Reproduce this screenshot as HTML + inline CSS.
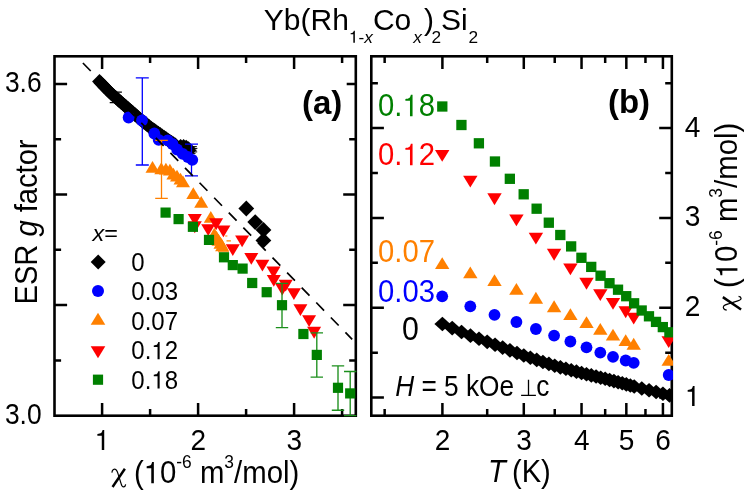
<!DOCTYPE html>
<html><head><meta charset="utf-8"><title>Yb(Rh1-xCox)2Si2</title>
<style>html,body{margin:0;padding:0;background:#fff;}svg{display:block;will-change:transform;}text{font-family:"Liberation Sans", sans-serif;fill:#000;}</style></head><body>
<svg width="747" height="492" viewBox="0 0 747 492">
<rect width="747" height="492" fill="#fff"/>
<path d="M102.1 415.7v-12.6M102.1 56.3v12.6M198.1 415.7v-12.6M198.1 56.3v12.6M294.1 415.7v-12.6M294.1 56.3v12.6M150.1 415.7v-6.6M150.1 56.3v6.6M246.1 415.7v-6.6M246.1 56.3v6.6M342.1 415.7v-6.6M342.1 56.3v6.6M54.5 84h12.6M355.8 84h-12.6M54.5 194.56h12.6M355.8 194.56h-12.6M54.5 305.12h12.6M355.8 305.12h-12.6M54.5 139.28h6.6M355.8 139.28h-6.6M54.5 249.84h6.6M355.8 249.84h-6.6M54.5 360.4h6.6M355.8 360.4h-6.6" stroke="#000" stroke-width="2.5" fill="none"/>
<path d="M442.4 415.7v-12.6M442.4 56.3v12.6M523.79 415.7v-12.6M523.79 56.3v12.6M581.54 415.7v-12.6M581.54 56.3v12.6M626.33 415.7v-12.6M626.33 56.3v12.6M662.93 415.7v-12.6M662.93 56.3v12.6M384.65 415.7v-6.6M384.65 56.3v6.6M487.19 415.7v-6.6M487.19 56.3v6.6M554.73 415.7v-6.6M554.73 56.3v6.6M605.18 415.7v-6.6M605.18 56.3v6.6M645.46 415.7v-6.6M645.46 56.3v6.6M371.3 397.6h12.6M671.8 397.6h-12.6M371.3 307.77h12.6M671.8 307.77h-12.6M371.3 217.94h12.6M671.8 217.94h-12.6M371.3 128.11h12.6M671.8 128.11h-12.6M371.3 352.69h6.6M671.8 352.69h-6.6M371.3 262.86h6.6M671.8 262.86h-6.6M371.3 173.03h6.6M671.8 173.03h-6.6M371.3 83.2h6.6M671.8 83.2h-6.6" stroke="#000" stroke-width="2.5" fill="none"/>
<rect x="54.5" y="56.3" width="301.3" height="359.4" fill="none" stroke="#000" stroke-width="2.6"/>
<rect x="371.3" y="56.3" width="300.5" height="359.4" fill="none" stroke="#000" stroke-width="2.6"/>
<g>
<path d="M115.8 92.1V102.7M109.7 92.1H121.9M109.7 102.7H121.9" stroke="#000" stroke-width="1.2" fill="none"/>
<path d="M99.5 74.1L106.9 81.5L99.5 88.9L92.1 81.5Z" fill="#000"/>
<path d="M101.1 75.76L108.5 83.16L101.1 90.56L93.7 83.16Z" fill="#000"/>
<path d="M102.7 77.42L110.1 84.82L102.7 92.22L95.3 84.82Z" fill="#000"/>
<path d="M104.3 79.08L111.7 86.48L104.3 93.88L96.9 86.48Z" fill="#000"/>
<path d="M105.91 80.74L113.31 88.14L105.91 95.54L98.51 88.14Z" fill="#000"/>
<path d="M107.51 82.4L114.91 89.8L107.51 97.2L100.11 89.8Z" fill="#000"/>
<path d="M109.12 84.05L116.52 91.45L109.12 98.85L101.72 91.45Z" fill="#000"/>
<path d="M110.72 85.71L118.12 93.11L110.72 100.51L103.32 93.11Z" fill="#000"/>
<path d="M112.42 87.26L119.82 94.66L112.42 102.06L105.02 94.66Z" fill="#000"/>
<path d="M114.15 88.79L121.55 96.19L114.15 103.59L106.75 96.19Z" fill="#000"/>
<path d="M115.88 90.32L123.28 97.72L115.88 105.12L108.48 97.72Z" fill="#000"/>
<path d="M117.6 91.85L125 99.25L117.6 106.65L110.2 99.25Z" fill="#000"/>
<path d="M119.33 93.38L126.73 100.78L119.33 108.18L111.93 100.78Z" fill="#000"/>
<path d="M121.05 94.91L128.45 102.31L121.05 109.71L113.65 102.31Z" fill="#000"/>
<path d="M122.78 96.44L130.18 103.84L122.78 111.24L115.38 103.84Z" fill="#000"/>
<path d="M124.51 97.97L131.91 105.37L124.51 112.77L117.11 105.37Z" fill="#000"/>
<path d="M126.24 99.49L133.64 106.89L126.24 114.29L118.84 106.89Z" fill="#000"/>
<path d="M127.97 101.02L135.37 108.42L127.97 115.82L120.57 108.42Z" fill="#000"/>
<path d="M129.7 102.55L137.1 109.95L129.7 117.35L122.3 109.95Z" fill="#000"/>
<path d="M131.43 104.07L138.83 111.47L131.43 118.87L124.03 111.47Z" fill="#000"/>
<path d="M133.17 105.59L140.57 112.99L133.17 120.39L125.77 112.99Z" fill="#000"/>
<path d="M134.91 107.1L142.31 114.5L134.91 121.9L127.51 114.5Z" fill="#000"/>
<path d="M136.65 108.61L144.05 116.01L136.65 123.41L129.25 116.01Z" fill="#000"/>
<path d="M138.39 110.13L145.79 117.53L138.39 124.93L130.99 117.53Z" fill="#000"/>
<path d="M140.13 111.64L147.53 119.04L140.13 126.44L132.73 119.04Z" fill="#000"/>
<path d="M141.89 113.12L149.29 120.52L141.89 127.92L134.49 120.52Z" fill="#000"/>
<path d="M143.69 114.58L151.09 121.98L143.69 129.38L136.29 121.98Z" fill="#000"/>
<path d="M145.48 116.03L152.88 123.43L145.48 130.83L138.08 123.43Z" fill="#000"/>
<path d="M147.27 117.48L154.67 124.88L147.27 132.28L139.87 124.88Z" fill="#000"/>
<path d="M149.06 118.93L156.46 126.33L149.06 133.73L141.66 126.33Z" fill="#000"/>
<path d="M150.85 120.38L158.25 127.78L150.85 135.18L143.45 127.78Z" fill="#000"/>
<path d="M152.72 121.74L160.12 129.14L152.72 136.54L145.32 129.14Z" fill="#000"/>
<path d="M154.59 123.08L161.99 130.48L154.59 137.88L147.19 130.48Z" fill="#000"/>
<path d="M156.47 124.43L163.87 131.83L156.47 139.23L149.07 131.83Z" fill="#000"/>
<path d="M158.34 125.77L165.74 133.17L158.34 140.57L150.94 133.17Z" fill="#000"/>
<path d="M160.21 127.12L167.61 134.52L160.21 141.92L152.81 134.52Z" fill="#000"/>
<path d="M162.1 128.45L169.5 135.85L162.1 143.25L154.7 135.85Z" fill="#000"/>
<path d="M164 129.76L171.4 137.16L164 144.56L156.6 137.16Z" fill="#000"/>
<path d="M165.9 131.07L173.3 138.47L165.9 145.87L158.5 138.47Z" fill="#000"/>
<path d="M167.79 132.38L175.19 139.78L167.79 147.18L160.39 139.78Z" fill="#000"/>
<path d="M169.69 133.69L177.09 141.09L169.69 148.49L162.29 141.09Z" fill="#000"/>
<path d="M171.59 134.99L178.99 142.39L171.59 149.79L164.19 142.39Z" fill="#000"/>
<path d="M173.5 136.3L180.9 143.7L173.5 151.1L166.1 143.7Z" fill="#000"/>
<path d="M175.4 137.6L182.8 145L175.4 152.4L168 145Z" fill="#000"/>
<path d="M192 146.6h4.8M192 148.4h5.4M192 150.2h4.6M192 151.9h5.2M192 153.4h3.5" stroke="#000" stroke-width="1" fill="none"/>
<path d="M180.6 138.9L188 146.3L180.6 153.7L173.2 146.3Z" fill="#000"/>
<path d="M183.6 139L191 146.4L183.6 153.8L176.2 146.4Z" fill="#000"/>
<path d="M186.2 139.8L193.6 147.2L186.2 154.6L178.8 147.2Z" fill="#000"/>
<path d="M188.4 141.2L195.8 148.6L188.4 156L181 148.6Z" fill="#000"/>
<path d="M188.9 142.9L196.3 150.3L188.9 157.7L181.5 150.3Z" fill="#000"/>
<path d="M187.4 144.2L194.8 151.6L187.4 159L180 151.6Z" fill="#000"/>
<path d="M246.3 200.6L254.2 208.5L246.3 216.4L238.4 208.5Z" fill="#000"/>
<path d="M255.2 214.2L263.1 222.1L255.2 230L247.3 222.1Z" fill="#000"/>
<path d="M263.5 222L271.4 229.9L263.5 237.8L255.6 229.9Z" fill="#000"/>
<path d="M263.4 232.5L271.3 240.4L263.4 248.3L255.5 240.4Z" fill="#000"/>
<path d="M142.3 77.9V165M135.8 77.9H148.8M135.8 165H148.8" stroke="#0000ff" stroke-width="1.3" fill="none"/>
<path d="M191.5 144.1V175.9M185 144.1H198M185 175.9H198" stroke="#0000ff" stroke-width="1.3" fill="none"/>
<circle cx="128.6" cy="117.5" r="5.9" fill="#0000ff"/>
<circle cx="142" cy="120.5" r="5.9" fill="#0000ff"/>
<circle cx="154.3" cy="133.5" r="5.9" fill="#0000ff"/>
<circle cx="158.7" cy="139.8" r="5.9" fill="#0000ff"/>
<circle cx="167.7" cy="140.4" r="5.9" fill="#0000ff"/>
<circle cx="172.5" cy="144" r="5.9" fill="#0000ff"/>
<circle cx="177.1" cy="149.5" r="5.9" fill="#0000ff"/>
<circle cx="182.7" cy="153.9" r="5.9" fill="#0000ff"/>
<circle cx="187.9" cy="157" r="5.9" fill="#0000ff"/>
<circle cx="192.3" cy="159.8" r="5.9" fill="#0000ff"/>
<path d="M161.5 140.4V198.4M155.2 140.4H167.8M155.2 198.4H167.8" stroke="#ff8000" stroke-width="1.3" fill="none"/>
<path d="M152.5 160.93L159.5 172.73L145.5 172.73Z" fill="#ff8000"/>
<path d="M161.3 162.33L168.3 174.13L154.3 174.13Z" fill="#ff8000"/>
<path d="M165.9 162.63L172.9 174.43L158.9 174.43Z" fill="#ff8000"/>
<path d="M169.9 163.73L176.9 175.53L162.9 175.53Z" fill="#ff8000"/>
<path d="M173.4 167.63L180.4 179.43L166.4 179.43Z" fill="#ff8000"/>
<path d="M177 169.73L184 181.53L170 181.53Z" fill="#ff8000"/>
<path d="M180.5 172.63L187.5 184.43L173.5 184.43Z" fill="#ff8000"/>
<path d="M183 175.53L190 187.33L176 187.33Z" fill="#ff8000"/>
<path d="M193.3 187.13L200.3 198.93L186.3 198.93Z" fill="#ff8000"/>
<path d="M201.2 196.03L208.2 207.83L194.2 207.83Z" fill="#ff8000"/>
<path d="M210.8 211.03L217.8 222.83L203.8 222.83Z" fill="#ff8000"/>
<path d="M194.8 225.87L201.8 214.07L187.8 214.07Z" fill="#ff0000"/>
<path d="M194.8 233.17L201.8 221.37L187.8 221.37Z" fill="#ff0000"/>
<path d="M216.1 230.17L223.1 218.37L209.1 218.37Z" fill="#ff0000"/>
<path d="M208.2 235.97L215.2 224.17L201.2 224.17Z" fill="#ff0000"/>
<path d="M223.4 237.27L230.4 225.47L216.4 225.47Z" fill="#ff0000"/>
<path d="M242.1 247.27L249.1 235.47L235.1 235.47Z" fill="#ff0000"/>
<path d="M232.8 255.97L239.8 244.17L225.8 244.17Z" fill="#ff0000"/>
<path d="M251.3 264.87L258.3 253.07L244.3 253.07Z" fill="#ff0000"/>
<path d="M262.4 271.47L269.4 259.67L255.4 259.67Z" fill="#ff0000"/>
<path d="M273.5 278.37L280.5 266.57L266.5 266.57Z" fill="#ff0000"/>
<path d="M273.8 286.87L280.8 275.07L266.8 275.07Z" fill="#ff0000"/>
<path d="M285.7 291.57L292.7 279.77L278.7 279.77Z" fill="#ff0000"/>
<path d="M282.3 295.47L289.3 283.67L275.3 283.67Z" fill="#ff0000"/>
<path d="M293.9 300.07L300.9 288.27L286.9 288.27Z" fill="#ff0000"/>
<path d="M300.4 316.07L307.4 304.27L293.4 304.27Z" fill="#ff0000"/>
<path d="M309.1 326.97L316.1 315.17L302.1 315.17Z" fill="#ff0000"/>
<path d="M314.1 338.67L321.1 326.87L307.1 326.87Z" fill="#ff0000"/>
<path d="M225.2 236h2.2M226.5 240.9h4.4M218 251.8h11" stroke="#ff8000" stroke-width="1.1" fill="none"/>
<path d="M214.3 227.83L221.3 239.63L207.3 239.63Z" fill="#ff8000"/>
<path d="M216.5 230.83L223.5 242.63L209.5 242.63Z" fill="#ff8000"/>
<path d="M218.5 233.83L225.5 245.63L211.5 245.63Z" fill="#ff8000"/>
<path d="M220.5 236.83L227.5 248.63L213.5 248.63Z" fill="#ff8000"/>
<path d="M222.1 239.33L229.1 251.13L215.1 251.13Z" fill="#ff8000"/>
<path d="M282 283.4V327.6M275.8 283.4H288.2M275.8 327.6H288.2" stroke="#1c8f1c" stroke-width="1.35" fill="none"/>
<path d="M316.8 332.9V377.1M310.6 332.9H323M310.6 377.1H323" stroke="#1c8f1c" stroke-width="1.35" fill="none"/>
<path d="M338 365.9V410.2M331.8 365.9H344.2M331.8 410.2H344.2" stroke="#1c8f1c" stroke-width="1.35" fill="none"/>
<path d="M350.2 371.5V415.6M344 371.5H356.4M344 415.6H356.4" stroke="#1c8f1c" stroke-width="1.35" fill="none"/>
<rect x="160.5" y="207.5" width="10.2" height="10.2" fill="#008000"/>
<rect x="173.5" y="214" width="10.2" height="10.2" fill="#008000"/>
<rect x="187.8" y="221.7" width="10.2" height="10.2" fill="#008000"/>
<rect x="203.9" y="234.8" width="10.2" height="10.2" fill="#008000"/>
<rect x="218.9" y="252.2" width="10.2" height="10.2" fill="#008000"/>
<rect x="227.7" y="260" width="10.2" height="10.2" fill="#008000"/>
<rect x="237.5" y="263.5" width="10.2" height="10.2" fill="#008000"/>
<rect x="247.1" y="277.9" width="10.2" height="10.2" fill="#008000"/>
<rect x="261.6" y="287.1" width="10.2" height="10.2" fill="#008000"/>
<rect x="276.9" y="300.1" width="10.2" height="10.2" fill="#008000"/>
<rect x="298.3" y="328.9" width="10.2" height="10.2" fill="#008000"/>
<rect x="311.7" y="349.8" width="10.2" height="10.2" fill="#008000"/>
<rect x="332.9" y="382.7" width="10.2" height="10.2" fill="#008000"/>
<rect x="345.1" y="388.3" width="10.2" height="10.2" fill="#008000"/>
<path d="M82.9 63L352.2 339.4" stroke="#000" stroke-width="1.7" stroke-dasharray="11.2 9.7" fill="none"/>
</g>
<defs><clipPath id="cb"><rect x="370" y="55" width="303.1" height="362"/></clipPath></defs>
<g clip-path="url(#cb)">
<path d="M442.4 316.71L450.4 324.01L442.4 331.31L434.4 324.01Z" fill="#000"/>
<path d="M452.19 320.79L460.19 328.09L452.19 335.39L444.19 328.09Z" fill="#000"/>
<path d="M461.53 324.67L469.53 331.97L461.53 339.27L453.53 331.97Z" fill="#000"/>
<path d="M470.45 328.37L478.45 335.67L470.45 342.97L462.45 335.67Z" fill="#000"/>
<path d="M479 331.52L487 338.82L479 346.12L471 338.82Z" fill="#000"/>
<path d="M487.19 334.55L495.19 341.85L487.19 349.15L479.19 341.85Z" fill="#000"/>
<path d="M495.06 337.46L503.06 344.76L495.06 352.06L487.06 344.76Z" fill="#000"/>
<path d="M502.64 340.31L510.64 347.61L502.64 354.91L494.64 347.61Z" fill="#000"/>
<path d="M509.94 343.05L517.94 350.35L509.94 357.65L501.94 350.35Z" fill="#000"/>
<path d="M516.98 345.69L524.98 352.99L516.98 360.29L508.98 352.99Z" fill="#000"/>
<path d="M523.79 348.25L531.79 355.55L523.79 362.85L515.79 355.55Z" fill="#000"/>
<path d="M530.37 350.48L538.37 357.78L530.37 365.08L522.37 357.78Z" fill="#000"/>
<path d="M536.74 352.59L544.74 359.89L536.74 367.19L528.74 359.89Z" fill="#000"/>
<path d="M542.92 354.63L550.92 361.93L542.92 369.23L534.92 361.93Z" fill="#000"/>
<path d="M548.91 356.62L556.91 363.92L548.91 371.22L540.91 363.92Z" fill="#000"/>
<path d="M554.73 358.52L562.73 365.82L554.73 373.12L546.73 365.82Z" fill="#000"/>
<path d="M560.39 360.03L568.39 367.33L560.39 374.63L552.39 367.33Z" fill="#000"/>
<path d="M565.89 361.51L573.89 368.81L565.89 376.11L557.89 368.81Z" fill="#000"/>
<path d="M571.24 362.95L579.24 370.25L571.24 377.55L563.24 370.25Z" fill="#000"/>
<path d="M576.45 364.35L584.45 371.65L576.45 378.95L568.45 371.65Z" fill="#000"/>
<path d="M581.54 365.68L589.54 372.98L581.54 380.28L573.54 372.98Z" fill="#000"/>
<path d="M586.49 366.9L594.49 374.2L586.49 381.5L578.49 374.2Z" fill="#000"/>
<path d="M591.33 368.09L599.33 375.39L591.33 382.69L583.33 375.39Z" fill="#000"/>
<path d="M596.05 369.25L604.05 376.55L596.05 383.85L588.05 376.55Z" fill="#000"/>
<path d="M600.67 370.39L608.67 377.69L600.67 384.99L592.67 377.69Z" fill="#000"/>
<path d="M605.18 371.5L613.18 378.8L605.18 386.1L597.18 378.8Z" fill="#000"/>
<path d="M609.59 372.65L617.59 379.95L609.59 387.25L601.59 379.95Z" fill="#000"/>
<path d="M613.91 373.79L621.91 381.09L613.91 388.39L605.91 381.09Z" fill="#000"/>
<path d="M618.13 374.91L626.13 382.21L618.13 389.51L610.13 382.21Z" fill="#000"/>
<path d="M622.27 376.01L630.27 383.31L622.27 390.61L614.27 383.31Z" fill="#000"/>
<path d="M626.33 377.08L634.33 384.38L626.33 391.68L618.33 384.38Z" fill="#000"/>
<path d="M630.3 378.13L638.3 385.43L630.3 392.73L622.3 385.43Z" fill="#000"/>
<path d="M634.2 379.16L642.2 386.46L634.2 393.76L626.2 386.46Z" fill="#000"/>
<path d="M641.78 381.15L649.78 388.45L641.78 395.75L633.78 388.45Z" fill="#000"/>
<path d="M649.08 382.98L657.08 390.28L649.08 397.58L641.08 390.28Z" fill="#000"/>
<path d="M656.12 384.76L664.12 392.06L656.12 399.36L648.12 392.06Z" fill="#000"/>
<path d="M662.93 386.47L670.93 393.77L662.93 401.07L654.93 393.77Z" fill="#000"/>
<path d="M669.51 388.12L677.51 395.42L669.51 402.72L661.51 395.42Z" fill="#000"/>
<circle cx="442.2" cy="296.3" r="5.9" fill="#0000ff"/>
<circle cx="470.3" cy="306.3" r="5.9" fill="#0000ff"/>
<circle cx="494.5" cy="314.8" r="5.9" fill="#0000ff"/>
<circle cx="516.4" cy="322" r="5.9" fill="#0000ff"/>
<circle cx="535.9" cy="329" r="5.9" fill="#0000ff"/>
<circle cx="554.1" cy="335.6" r="5.9" fill="#0000ff"/>
<circle cx="570.4" cy="341.5" r="5.9" fill="#0000ff"/>
<circle cx="586.5" cy="347.3" r="5.9" fill="#0000ff"/>
<circle cx="600.3" cy="352.6" r="5.9" fill="#0000ff"/>
<circle cx="613" cy="356.8" r="5.9" fill="#0000ff"/>
<circle cx="625.7" cy="360.5" r="5.9" fill="#0000ff"/>
<circle cx="633.7" cy="362.8" r="5.9" fill="#0000ff"/>
<circle cx="668.7" cy="375" r="5.9" fill="#0000ff"/>
<path d="M442.2 257.23L449.4 269.03L435 269.03Z" fill="#ff8000"/>
<path d="M470.3 266.53L477.5 278.33L463.1 278.33Z" fill="#ff8000"/>
<path d="M494.5 274.23L501.7 286.03L487.3 286.03Z" fill="#ff8000"/>
<path d="M516.4 283.03L523.6 294.83L509.2 294.83Z" fill="#ff8000"/>
<path d="M535.9 291.83L543.1 303.63L528.7 303.63Z" fill="#ff8000"/>
<path d="M554.1 300.33L561.3 312.13L546.9 312.13Z" fill="#ff8000"/>
<path d="M570.4 308.13L577.6 319.93L563.2 319.93Z" fill="#ff8000"/>
<path d="M586.5 316.23L593.7 328.03L579.3 328.03Z" fill="#ff8000"/>
<path d="M600.3 322.93L607.5 334.73L593.1 334.73Z" fill="#ff8000"/>
<path d="M613 328.63L620.2 340.43L605.8 340.43Z" fill="#ff8000"/>
<path d="M625.7 334.23L632.9 346.03L618.5 346.03Z" fill="#ff8000"/>
<path d="M633.7 337.83L640.9 349.63L626.5 349.63Z" fill="#ff8000"/>
<path d="M668.7 353.93L675.9 365.73L661.5 365.73Z" fill="#ff8000"/>
<path d="M442.2 161.87L449.4 150.07L435 150.07Z" fill="#ff0000"/>
<path d="M470.3 187.57L477.5 175.77L463.1 175.77Z" fill="#ff0000"/>
<path d="M494.5 205.17L501.7 193.37L487.3 193.37Z" fill="#ff0000"/>
<path d="M516.4 226.27L523.6 214.47L509.2 214.47Z" fill="#ff0000"/>
<path d="M535.9 244.47L543.1 232.67L528.7 232.67Z" fill="#ff0000"/>
<path d="M554.1 260.67L561.3 248.87L546.9 248.87Z" fill="#ff0000"/>
<path d="M570.4 275.37L577.6 263.57L563.2 263.57Z" fill="#ff0000"/>
<path d="M586.5 289.67L593.7 277.87L579.3 277.87Z" fill="#ff0000"/>
<path d="M600.3 300.97L607.5 289.17L593.1 289.17Z" fill="#ff0000"/>
<path d="M613 309.87L620.2 298.07L605.8 298.07Z" fill="#ff0000"/>
<path d="M625.7 318.17L632.9 306.37L618.5 306.37Z" fill="#ff0000"/>
<path d="M633.7 324.47L640.9 312.67L626.5 312.67Z" fill="#ff0000"/>
<path d="M668.7 347.97L675.9 336.17L661.5 336.17Z" fill="#ff0000"/>
<rect x="437.15" y="101.35" width="10.3" height="10.3" fill="#008000"/>
<rect x="456.28" y="119.85" width="10.3" height="10.3" fill="#008000"/>
<rect x="473.75" y="138.15" width="10.3" height="10.3" fill="#008000"/>
<rect x="489.81" y="156.35" width="10.3" height="10.3" fill="#008000"/>
<rect x="504.69" y="173.65" width="10.3" height="10.3" fill="#008000"/>
<rect x="518.54" y="189.15" width="10.3" height="10.3" fill="#008000"/>
<rect x="531.49" y="203.55" width="10.3" height="10.3" fill="#008000"/>
<rect x="543.66" y="217.55" width="10.3" height="10.3" fill="#008000"/>
<rect x="555.14" y="229.85" width="10.3" height="10.3" fill="#008000"/>
<rect x="565.99" y="241.25" width="10.3" height="10.3" fill="#008000"/>
<rect x="576.29" y="252.65" width="10.3" height="10.3" fill="#008000"/>
<rect x="586.08" y="261.75" width="10.3" height="10.3" fill="#008000"/>
<rect x="595.42" y="270.55" width="10.3" height="10.3" fill="#008000"/>
<rect x="604.34" y="278.05" width="10.3" height="10.3" fill="#008000"/>
<rect x="612.88" y="284.55" width="10.3" height="10.3" fill="#008000"/>
<rect x="621.08" y="291.05" width="10.3" height="10.3" fill="#008000"/>
<rect x="628.95" y="298.15" width="10.3" height="10.3" fill="#008000"/>
<rect x="636.53" y="305.35" width="10.3" height="10.3" fill="#008000"/>
<rect x="643.83" y="311.15" width="10.3" height="10.3" fill="#008000"/>
<rect x="650.87" y="316.75" width="10.3" height="10.3" fill="#008000"/>
<rect x="657.68" y="321.95" width="10.3" height="10.3" fill="#008000"/>
<rect x="664.26" y="327.15" width="10.3" height="10.3" fill="#008000"/>
</g>
<text transform="translate(263.8 30.2) scale(1.0 1)" font-size="30" text-anchor="start" >Yb(Rh<tspan font-size="17.3" dy="12.6"><tspan class="o" style="fill:none">1</tspan>-<tspan font-style="italic">x</tspan></tspan><tspan dy="-12.6">Co</tspan><tspan font-size="17.3" dy="12.6" dx="1.9" font-style="italic">x</tspan><tspan dy="-12.6" dx="2.1">)</tspan><tspan font-size="17.3" dy="12.6" dx="-2.4">2</tspan><tspan dy="-12.6">Si</tspan><tspan font-size="17.3" dy="12.6" dx="0.8">2</tspan></text>
<text transform="translate(102.3 450.1) scale(0.965 1)" font-size="29" text-anchor="middle" ><tspan class="o" style="fill:none">1</tspan></text>
<text transform="translate(198.3 450.1) scale(0.965 1)" font-size="29" text-anchor="middle" >2</text>
<text transform="translate(294.3 450.1) scale(0.965 1)" font-size="29" text-anchor="middle" >3</text>
<text transform="translate(41.6 92.4) scale(0.91 1)" font-size="29" text-anchor="end" >3.6</text>
<text transform="translate(41.6 424.1) scale(0.91 1)" font-size="29" text-anchor="end" >3.0</text>
<text transform="translate(442.6 450.1) scale(0.965 1)" font-size="29" text-anchor="middle" >2</text>
<text transform="translate(523.99 450.1) scale(0.965 1)" font-size="29" text-anchor="middle" >3</text>
<text transform="translate(581.74 450.1) scale(0.965 1)" font-size="29" text-anchor="middle" >4</text>
<text transform="translate(626.53 450.1) scale(0.965 1)" font-size="29" text-anchor="middle" >5</text>
<text transform="translate(663.13 450.1) scale(0.965 1)" font-size="29" text-anchor="middle" >6</text>
<text transform="translate(684.8 406.1) scale(0.97 1)" font-size="29" text-anchor="start" ><tspan class="o" style="fill:none">1</tspan></text>
<text transform="translate(684.8 316.27) scale(0.97 1)" font-size="29" text-anchor="start" >2</text>
<text transform="translate(684.8 226.44) scale(0.97 1)" font-size="29" text-anchor="start" >3</text>
<text transform="translate(684.8 136.61) scale(0.97 1)" font-size="29" text-anchor="start" >4</text>
<g transform="translate(111.0 482.9) scale(0.97)"><path d="M14.3 -14.6 L1.6 4.2" stroke="#000" stroke-width="2.5" fill="none"/><path d="M0.9 -10.6 C1.3 -13.6 3.4 -14.9 5.2 -13.6 C6.6 -12.5 7.0 -10.4 7.6 -8.2 L10.4 0.8 C11.0 3.0 11.8 4.3 13.0 4.2 C14.2 4.1 14.9 3.0 15.1 1.6" stroke="#000" stroke-width="1.25" fill="none"/></g>
<text transform="translate(133.9 483.2) scale(0.956 1)" font-size="30.7" text-anchor="start" >(<tspan class="o" style="fill:none">1</tspan>0<tspan font-size="18.2" dy="-15.0">-6</tspan><tspan dy="15.0"> m</tspan><tspan font-size="18.2" dy="-15.0">3</tspan><tspan dy="15.0">/mol)</tspan></text>
<text transform="translate(487.9 482) scale(0.949 1)" font-size="30.7" text-anchor="start" ><tspan font-style="italic">T</tspan></text>
<text transform="translate(512 482) scale(0.949 1)" font-size="30.7" text-anchor="start" >(K)</text>
<text transform="translate(36.6 304.5) rotate(-90) scale(0.949 1)" font-size="30.7">ESR <tspan font-style="italic">g</tspan> factor</text>
<g transform="translate(737.0 311.0) rotate(-90) scale(0.97)"><path d="M14.3 -14.6 L1.6 4.2" stroke="#000" stroke-width="2.5" fill="none"/><path d="M0.9 -10.6 C1.3 -13.6 3.4 -14.9 5.2 -13.6 C6.6 -12.5 7.0 -10.4 7.6 -8.2 L10.4 0.8 C11.0 3.0 11.8 4.3 13.0 4.2 C14.2 4.1 14.9 3.0 15.1 1.6" stroke="#000" stroke-width="1.25" fill="none"/></g>
<text transform="translate(737.4 288.1) rotate(-90) scale(0.956 1)" font-size="30.7">(<tspan class="o" style="fill:none">1</tspan>0<tspan font-size="18.2" dy="-15.0">-6</tspan><tspan dy="15.0"> m</tspan><tspan font-size="18.2" dy="-15.0">3</tspan><tspan dy="15.0">/mol)</tspan></text>
<rect x="300" y="76" width="46.7" height="46" fill="#fff"/>
<text transform="translate(302 113.5) scale(1.0 1)" font-size="33" text-anchor="start" font-weight="bold">(a)</text>
<text transform="translate(607.9 112.5) scale(1.0 1)" font-size="33" text-anchor="start" font-weight="bold">(b)</text>
<text transform="translate(92.6 240.85) scale(1.04 1)" font-size="22.5" text-anchor="start" ><tspan font-style="italic">x</tspan>=</text>
<path d="M98.2 254.5L105.7 262L98.2 269.5L90.7 262Z" fill="#000"/>
<circle cx="98" cy="291.1" r="6" fill="#0000ff"/>
<path d="M98 312.83L105.3 324.63L90.7 324.63Z" fill="#ff8000"/>
<path d="M98 358.17L105.3 346.37L90.7 346.37Z" fill="#ff0000"/>
<rect x="92.9" y="374.6" width="10.2" height="10.2" fill="#008000"/>
<text transform="translate(131.3 270.9) scale(0.96 1)" font-size="25" text-anchor="start" >0</text>
<text transform="translate(131.3 300) scale(0.96 1)" font-size="25" text-anchor="start" >0.03</text>
<text transform="translate(131.3 329.6) scale(0.96 1)" font-size="25" text-anchor="start" >0.07</text>
<text transform="translate(131.3 359.2) scale(0.96 1)" font-size="25" text-anchor="start" >0.<tspan class="o" style="fill:none">1</tspan>2</text>
<text transform="translate(131.3 388.6) scale(0.96 1)" font-size="25" text-anchor="start" >0.<tspan class="o" style="fill:none">1</tspan>8</text>
<text transform="translate(378 116.2) scale(0.935 1)" font-size="31.3" text-anchor="start" style="fill:#008000">0.<tspan class="o" style="fill:none">1</tspan>8</text>
<text transform="translate(378 165.2) scale(0.935 1)" font-size="31.3" text-anchor="start" style="fill:#ff0000">0.<tspan class="o" style="fill:none">1</tspan>2</text>
<text transform="translate(378 262.2) scale(0.935 1)" font-size="31.3" text-anchor="start" style="fill:#ff8000">0.07</text>
<text transform="translate(378 301.5) scale(0.935 1)" font-size="31.3" text-anchor="start" style="fill:#0000ff">0.03</text>
<text transform="translate(402 339.6) scale(0.93 1)" font-size="32.6" text-anchor="start" >0</text>
<text transform="translate(395.2 396) scale(0.905 1)" font-size="29" text-anchor="start" ><tspan font-style="italic">H</tspan> = 5 kOe</text>
<path d="M521.1 395.3h14.8M528.5 395.3v-15.6" stroke="#000" stroke-width="1.3" fill="none"/>
<text transform="translate(536.3 396) scale(0.905 1)" font-size="29" text-anchor="start" >c</text>
<g transform="translate(263.8 30.2) scale(1.0 1)"><path transform="translate(85.05 12.6) scale(0.01730 -0.01682)" d="M259 505V0H347V709H289C258 599 238 584 102 567V505Z" fill="rgb(0, 0, 0)"/></g>
<g transform="translate(102.3 450.1) scale(0.965 1)"><path transform="translate(-8.06 0) scale(0.02900 -0.02819)" d="M259 505V0H347V709H289C258 599 238 584 102 567V505Z" fill="rgb(0, 0, 0)"/></g>
<g transform="translate(684.8 406.1) scale(0.97 1)"><path transform="translate(0 0) scale(0.02900 -0.02819)" d="M259 505V0H347V709H289C258 599 238 584 102 567V505Z" fill="rgb(0, 0, 0)"/></g>
<g transform="translate(133.9 483.2) scale(0.956 1)"><path transform="translate(10.22 0) scale(0.03070 -0.02984)" d="M259 505V0H347V709H289C258 599 238 584 102 567V505Z" fill="rgb(0, 0, 0)"/></g>
<g transform="translate(737.4 288.1) rotate(-90) scale(0.956 1)"><path transform="translate(10.22 0) scale(0.03070 -0.02984)" d="M259 505V0H347V709H289C258 599 238 584 102 567V505Z" fill="rgb(0, 0, 0)"/></g>
<g transform="translate(131.3 359.2) scale(0.96 1)"><path transform="translate(20.85 0) scale(0.02500 -0.02430)" d="M259 505V0H347V709H289C258 599 238 584 102 567V505Z" fill="rgb(0, 0, 0)"/></g>
<g transform="translate(131.3 388.6) scale(0.96 1)"><path transform="translate(20.85 0) scale(0.02500 -0.02430)" d="M259 505V0H347V709H289C258 599 238 584 102 567V505Z" fill="rgb(0, 0, 0)"/></g>
<g transform="translate(378 116.2) scale(0.935 1)"><path transform="translate(26.1 0) scale(0.03130 -0.03042)" d="M259 505V0H347V709H289C258 599 238 584 102 567V505Z" fill="rgb(0, 128, 0)"/></g>
<g transform="translate(378 165.2) scale(0.935 1)"><path transform="translate(26.1 0) scale(0.03130 -0.03042)" d="M259 505V0H347V709H289C258 599 238 584 102 567V505Z" fill="rgb(255, 0, 0)"/></g>
</svg></body></html>
